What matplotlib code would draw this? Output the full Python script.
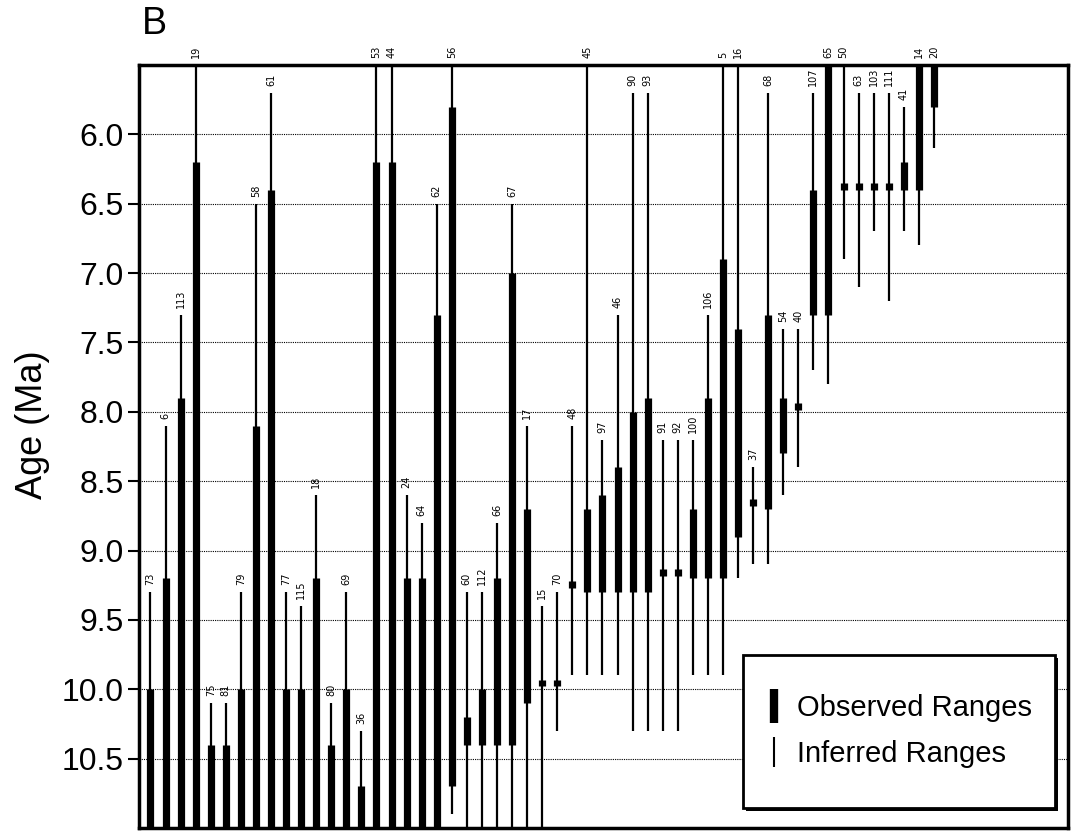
import matplotlib
matplotlib.use('Agg')
import matplotlib.pyplot as plt
from matplotlib.lines import Line2D
from matplotlib.patches import Rectangle

taxa = ['73', '6', '113', '19', '75', '81', '79', '58', '61', '77', '115', '18', '80', '69',
        '36', '53', '44', '24', '64', '62', '56', '60', '112', '66', '67', '17', '15', '70',
        '48', '45', '97', '46', '90', '93', '91', '92', '100', '106', '5', '16', '37', '68',
        '54', '40', '107', '65', '50', '63', '103', '111', '41', '14', '20']

inferred_young = [9.3, 8.1, 7.3, 5.5, 10.1, 10.1, 9.3, 6.5, 5.7, 9.3, 9.4, 8.6, 10.1, 9.3,
                  10.3, 5.5, 5.5, 8.6, 8.8, 6.5, 5.5, 9.3, 9.3, 8.8, 6.5, 8.1, 9.4, 9.3,
                  8.1, 5.5, 8.2, 7.3, 5.7, 5.7, 8.2, 8.2, 8.2, 7.3, 5.5, 5.5, 8.4, 5.7,
                  7.4, 7.4, 5.7, 5.5, 5.5, 5.7, 5.7, 5.7, 5.8, 5.5, 5.5]
inferred_old = [11.0, 11.0, 11.0, 11.0, 11.0, 11.0, 11.0, 11.0, 11.0, 11.0, 11.0, 11.0, 11.0, 11.0,
                11.0, 11.0, 11.0, 11.0, 11.0, 11.0, 10.9, 11.0, 11.0, 11.0, 11.0, 11.0, 11.0, 10.3,
                9.9, 9.9, 9.9, 9.9, 10.3, 10.3, 10.3, 10.3, 9.9, 9.9, 9.9, 9.2, 9.1, 9.1,
                8.6, 8.4, 7.7, 7.8, 6.9, 7.1, 6.7, 7.2, 6.7, 6.8, 6.1]
observed_young = [10.0, 9.2, 7.9, 6.2, 10.4, 10.4, 10.0, 8.1, 6.4, 10.0, 10.0, 9.2, 10.4, 10.0,
                  10.7, 6.2, 6.2, 9.2, 9.2, 7.3, 5.8, 10.2, 10.0, 9.2, 7.0, 8.7, 9.93, 9.93,
                  9.22, 8.7, 8.6, 8.4, 8.0, 7.9, 9.13, 9.13, 8.7, 7.9, 6.9, 7.4, 8.63, 7.3,
                  7.9, 7.94, 6.4, 5.5, 6.35, 6.35, 6.35, 6.35, 6.2, 5.5, 5.5]
observed_old = [11.0, 11.0, 11.0, 11.0, 11.0, 11.0, 11.0, 11.0, 11.0, 11.0, 11.0, 11.0, 11.0, 11.0,
                11.0, 11.0, 11.0, 11.0, 11.0, 11.0, 10.7, 10.4, 10.4, 10.4, 10.4, 10.1, 9.98, 9.98,
                9.27, 9.3, 9.3, 9.3, 9.3, 9.3, 9.18, 9.18, 9.2, 9.2, 9.2, 8.9, 8.68, 8.7,
                8.3, 7.99, 7.3, 7.3, 6.40, 6.40, 6.40, 6.40, 6.4, 6.4, 5.8]

age_ticks = [6.0, 6.5, 7.0, 7.5, 8.0, 8.5, 9.0, 9.5, 10.0, 10.5]
legend_labels = ['Observed Ranges', 'Inferred Ranges']

plt.rcParams['font.family'] = ['Liberation Sans', 'DejaVu Sans']

W, H = 1080, 831
fig = plt.figure(figsize=(W / 100, H / 100), dpi=100)
ax_l, ax_r, ax_t, ax_b = 139, 1068, 65, 828
ax = fig.add_axes([ax_l / W, 1 - ax_b / H, (ax_r - ax_l) / W, (ax_b - ax_t) / H])


def afx(px):
    return (px - ax_l) / (ax_r - ax_l)


def afy(py):
    return 1 - (py - ax_t) / (ax_b - ax_t)


xs = list(range(len(taxa)))
ax.vlines(xs, inferred_young, inferred_old, colors='black', linewidth=1.6, zorder=2)
ax.vlines(xs, observed_young, observed_old, colors='black', linewidth=5.2, zorder=3)

for xi, name, top in zip(xs, taxa, inferred_young):
    ax.annotate(name, (xi, top), xytext=(0, 5), textcoords='offset points',
                rotation=90, ha='center', va='bottom', fontsize=7,
                family='DejaVu Sans', annotation_clip=False)

ax.set_ylim(11.0, 5.5)
ax.set_xlim(-0.76, 60.9)
ax.set_yticks(age_ticks)
ax.set_yticklabels([f'{t:.1f}' for t in age_ticks])
ax.tick_params(axis='y', length=8, width=1.5, labelsize=23, pad=3)
ax.tick_params(axis='x', bottom=False, labelbottom=False)
ax.yaxis.grid(True, linestyle=(0, (1, 1)), color='black', linewidth=0.8)
ax.set_axisbelow(True)
for s in ax.spines.values():
    s.set_linewidth(2.5)

ax.set_ylabel('Age (Ma)', fontsize=26)
ax.yaxis.set_label_coords(afx(50), afy(425))

# legend frame with a dark drop shadow
lx0, ly0, lx1, ly1 = 743, 655, 1055, 808
shadow = Rectangle((afx(lx0 + 3), afy(ly1 + 3)), afx(lx1) - afx(lx0), afy(ly0) - afy(ly1),
                   transform=ax.transAxes, facecolor='black', edgecolor='black',
                   linewidth=0, zorder=6)
frame = Rectangle((afx(lx0), afy(ly1)), afx(lx1) - afx(lx0), afy(ly0) - afy(ly1),
                  transform=ax.transAxes, facecolor='white', edgecolor='black',
                  linewidth=2, zorder=7)
ax.add_patch(shadow)
ax.add_patch(frame)

handles = [Line2D([], [], color='black', marker='|', linestyle='none',
                  markersize=24, markeredgewidth=6),
           Line2D([], [], color='black', marker='|', linestyle='none',
                  markersize=22, markeredgewidth=1.5)]
leg = ax.legend(handles, legend_labels, loc='center left',
                bbox_to_anchor=(afx(765), afy(731)),
                fontsize=21, frameon=False, borderpad=0, borderaxespad=0,
                labelspacing=0.6, handlelength=0.6, handletextpad=0.5)
leg.set_zorder(8)

fig.text(142 / W, 1 - 6 / H, 'B', ha='left', va='top', fontsize=27)

fig.savefig('out.png', dpi=100)
